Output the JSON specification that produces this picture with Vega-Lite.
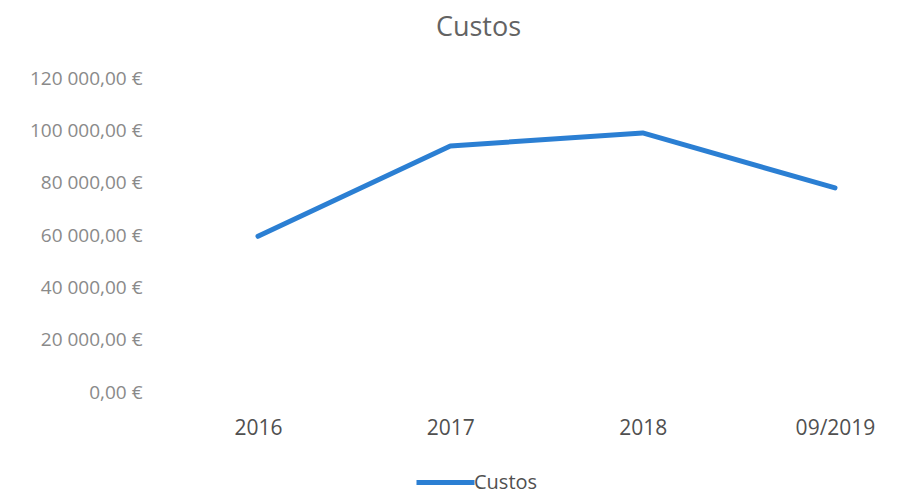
{
  "$schema": "https://vega.github.io/schema/vega-lite/v6.json",
  "autosize": "none",
  "width": 697,
  "height": 314,
  "padding": {"left": 198, "top": 78, "right": 3, "bottom": 103},
  "background": "white",
  "title": {"text": "Custos", "fontSize": 27, "font": "Open Sans", "fontWeight": "normal", "color": "#636363", "dx": -68, "offset": 27},
  "data": {"values": [
    {"periodo": "2016", "custos": 59500, "serie": "Custos"},
    {"periodo": "2017", "custos": 94000, "serie": "Custos"},
    {"periodo": "2018", "custos": 99000, "serie": "Custos"},
    {"periodo": "09/2019", "custos": 78000, "serie": "Custos"}
  ]},
  "mark": {"type": "line", "strokeWidth": 5, "strokeCap": "round", "strokeJoin": "round"},
  "encoding": {
    "x": {"field": "periodo", "type": "ordinal", "sort": null,
      "scale": {"type": "point", "padding": 0.312},
      "axis": {"title": null, "labelAngle": 0, "domain": false, "ticks": false, "grid": false, "labelPadding": 25, "labelFontSize": 21, "labelFont": "Open Sans", "labelColor": "#505050"}},
    "y": {"field": "custos", "type": "quantitative",
      "scale": {"domain": [0, 120000], "nice": false},
      "axis": {"title": null, "values": [0, 20000, 40000, 60000, 80000, 100000, 120000], "format": "$,.2f", "domain": false, "ticks": false, "grid": false, "labelPadding": 56, "labelFontSize": 19, "labelFont": "Open Sans", "labelColor": "#8a8a8a"}},
    "color": {"field": "serie", "type": "nominal", "scale": {"range": ["#2b7fd3"]},
      "legend": {"title": null, "orient": "none", "legendX": 216, "legendY": 373, "padding": 0, "symbolType": "stroke", "symbolSize": 3364, "symbolStrokeWidth": 5, "labelFontSize": 20, "labelFont": "Open Sans", "labelColor": "#505050", "labelOffset": -3}}
  },
  "config": {
    "view": {"stroke": null},
    "locale": {"number": {"decimal": ",", "thousands": " ", "grouping": [3], "currency": ["", " €"]}}
  }
}
